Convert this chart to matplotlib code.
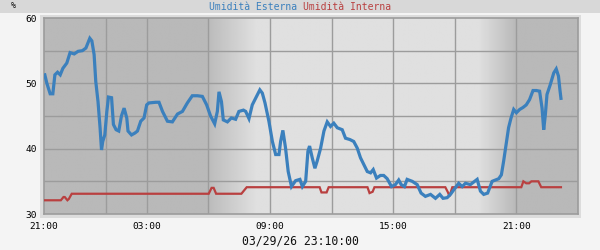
import matplotlib
matplotlib.use("Agg")
import matplotlib.pyplot as plt
import numpy as np
from matplotlib.patches import Rectangle

# ---- data (x = hours after 21:00 of the previous day) ----
ext_hours = [1.04, 1.14, 1.30, 1.43, 1.53, 1.66, 1.79, 1.92, 2.11, 2.27, 2.47, 2.66, 2.87, 3.04,
             3.23, 3.33, 3.44, 3.52, 3.63, 3.73, 3.80, 3.86, 3.96, 4.06, 4.14, 4.29, 4.38, 4.51,
             4.64, 4.77, 4.90, 5.03, 5.09, 5.26, 5.43, 5.55, 5.71, 5.87, 6.00, 6.11, 6.44, 6.60,
             6.77, 7.01, 7.25, 7.50, 7.74, 7.98, 8.22, 8.47, 8.71, 8.92, 9.11, 9.31, 9.44, 9.52,
             9.64, 9.73, 9.93, 10.12, 10.33, 10.49, 10.71, 10.82, 10.98, 11.14, 11.35, 11.51,
             11.63, 11.76, 11.95, 12.12, 12.28, 12.44, 12.52, 12.63, 12.76, 12.89, 13.05, 13.25,
             13.46, 13.58, 13.74, 13.85, 13.93, 14.06, 14.19, 14.30, 14.47, 14.63, 14.79, 14.95,
             15.11, 15.28, 15.52, 15.68, 15.89, 16.08, 16.25, 16.41, 16.57, 16.74, 16.90, 17.03,
             17.19, 17.38, 17.54, 17.71, 17.92, 18.11, 18.27, 18.39, 18.55, 18.68, 18.93, 19.17,
             19.36, 19.57, 19.82, 20.06, 20.27, 20.43, 20.63, 20.79, 20.95, 21.19, 21.36, 21.52,
             21.76, 22.09, 22.25, 22.41, 22.60, 22.82, 22.98, 23.14, 23.27, 23.38, 23.50, 23.62,
             23.74, 23.87, 24.00, 24.16, 24.32, 24.48, 24.64, 24.81, 24.97, 25.13, 25.25, 25.33,
             25.41, 25.49, 25.65, 25.82, 25.94, 26.05, 26.12, 26.17]
ext_values = [51.3, 50.0, 48.4, 48.4, 51.3, 51.7, 51.3, 52.3, 53.1, 54.7, 54.5, 54.9, 55.0, 55.4,
              56.9, 56.5, 54.4, 50.3, 47.2, 43.2, 39.8, 41.1, 42.1, 45.7, 47.9, 47.8, 43.7, 42.9,
              42.7, 45.0, 46.2, 44.7, 42.7, 42.1, 42.4, 42.7, 44.2, 44.7, 46.7, 47.0, 47.1, 47.1,
              45.7, 44.2, 44.1, 45.3, 45.7, 47.0, 48.1, 48.1, 48.0, 46.7, 45.0, 43.8, 45.7, 48.7,
              47.2, 44.4, 44.1, 44.7, 44.5, 45.7, 45.9, 45.7, 44.6, 46.7, 48.0, 49.0,
              48.5, 47.0, 44.2, 41.1, 39.1, 39.1, 41.1, 42.8, 40.1, 36.5, 34.2, 35.1,
              35.3, 34.2, 35.0, 39.6, 40.4, 38.6, 37.0, 38.1, 40.1, 42.7, 44.1, 43.4,
              43.9, 43.2, 42.9, 41.6, 41.4, 41.1, 40.1, 38.6, 37.6, 36.5, 36.3, 36.8,
              35.5, 35.9, 35.9, 35.4, 34.2, 34.5, 35.2, 34.5, 34.2, 35.3, 35.0, 34.5,
              33.2, 32.7, 33.0, 32.4, 33.0, 32.4, 32.5, 33.0, 33.7, 34.7, 34.2, 34.7,
              34.5, 35.3, 33.5, 33.0, 33.2, 35.0, 35.2, 35.4, 36.0, 38.1, 40.6, 43.2,
              44.7, 46.0, 45.5, 46.0, 46.3, 46.7, 47.5, 48.9, 48.9, 48.8, 46.2, 42.9,
              45.2, 48.3, 49.8, 51.6, 52.2, 51.1, 49.0, 47.7]

int_hours = [1.04, 1.82, 1.95, 2.01, 2.14, 2.21, 2.35, 9.02, 9.16, 9.26, 9.38, 10.61, 10.87,
             14.42, 14.51, 14.76, 14.86, 16.75, 16.85, 17.00, 17.09, 20.54, 20.67, 20.74, 20.88,
             24.24, 24.34, 24.48, 24.62, 24.73, 25.07, 25.21, 26.17]
int_values = [32.1, 32.1, 32.6, 32.6, 32.1, 32.3, 33.1, 33.1, 34.0, 34.0, 33.1, 33.1, 34.1,
              34.1, 33.3, 33.3, 34.1, 34.1, 33.2, 33.4, 34.1, 34.1, 33.3, 32.7, 34.1,
              34.1, 35.0, 34.7, 34.7, 35.0, 35.0, 34.1, 34.1]

series_names = ["Umidità Esterna", "Umidità Interna"]
y_label_ticks = [30, 40, 50, 60]
y_grid = [35, 40, 45, 50, 55]
x_label_pos = [1.0, 6, 12, 18, 24]
x_labels = ["21:00", "03:00", "09:00", "15:00", "21:00"]
x_grid = [4, 6, 9, 12, 15, 18, 21, 24]
unit = "%"
stamp = "03/29/26 23:10:00"

# night/day background key points (hours, gray level)
shade_h = [1.0, 9.0, 9.1, 11.3, 22.2, 24.0, 27.0]
shade_v = [0.725, 0.725, 0.74, 0.875, 0.875, 0.725, 0.725]

BLUE = "#3b80bd"
RED = "#b94040"
MONO = "DejaVu Sans Mono"

W, H = 600, 250
fig = plt.figure(figsize=(6, 2.5), dpi=100)
fig.patch.set_facecolor("#f4f4f4")

def fx(px):
    return px / W

def fy(py):
    return 1 - py / H

# top band
fig.add_artist(Rectangle((0, fy(13)), 1, 13 / H, transform=fig.transFigure,
                         facecolor="#d8d8d8", edgecolor="none", zorder=0))
# frame behind the plot
fig.add_artist(Rectangle((fx(40), fy(218)), 541 / W, 203 / H, transform=fig.transFigure,
                         facecolor="#dcdcdc", edgecolor="none", zorder=0))

ax = fig.add_axes([fx(44), fy(214), 534 / W, 196 / H])
ax.set_zorder(1)
xmin, xmax, ymin, ymax = 1.0, 27.0, 30, 60

xs = np.linspace(xmin, xmax, 600)
shade = np.interp(xs, shade_h, shade_v)
ax.imshow(shade[np.newaxis, :], extent=[xmin, xmax, ymin, ymax], aspect="auto",
          cmap="gray", vmin=0, vmax=1, interpolation="bilinear", zorder=0)

for g in x_grid:
    ax.axvline(g, color="#9c9c9c", lw=1.0, zorder=1)
for g in y_grid:
    ax.axhline(g, color="#9c9c9c", lw=1.0, zorder=1)

ax.plot(int_hours, int_values, color=RED, lw=1.6, zorder=3, solid_joinstyle="miter")
ax.plot(ext_hours, ext_values, color=BLUE, lw=2.3, zorder=4, solid_joinstyle="miter")

ax.set_xlim(xmin, xmax)
ax.set_ylim(ymin, ymax)
ax.set_xticks(x_label_pos)
ax.set_xticklabels(x_labels, family=MONO, fontsize=6.8)
ax.set_yticks(y_label_ticks)
ax.set_yticklabels([str(v) for v in y_label_ticks], family=MONO, fontsize=6.8)
ax.tick_params(length=0, pad=5)
ax.tick_params(axis="x", pad=6)
for s in ax.spines.values():
    s.set_color("#9c9c9c")
    s.set_linewidth(1.2)

# title
t1 = fig.text(fx(297), fy(7), series_names[0], color=BLUE, ha="right", va="center",
              family=MONO, fontsize=7)
fig.text(fx(303), fy(7), series_names[1], color=RED, ha="left", va="center",
         family=MONO, fontsize=7)
fig.text(fx(13), fy(5), unit, ha="center", va="center", family=MONO, fontsize=6, color="#111111")
fig.text(fx(300), fy(241), stamp, ha="center", va="center", family=MONO, fontsize=8.3,
         color="#111111")

fig.savefig("out.png", dpi=100, facecolor=fig.get_facecolor())
